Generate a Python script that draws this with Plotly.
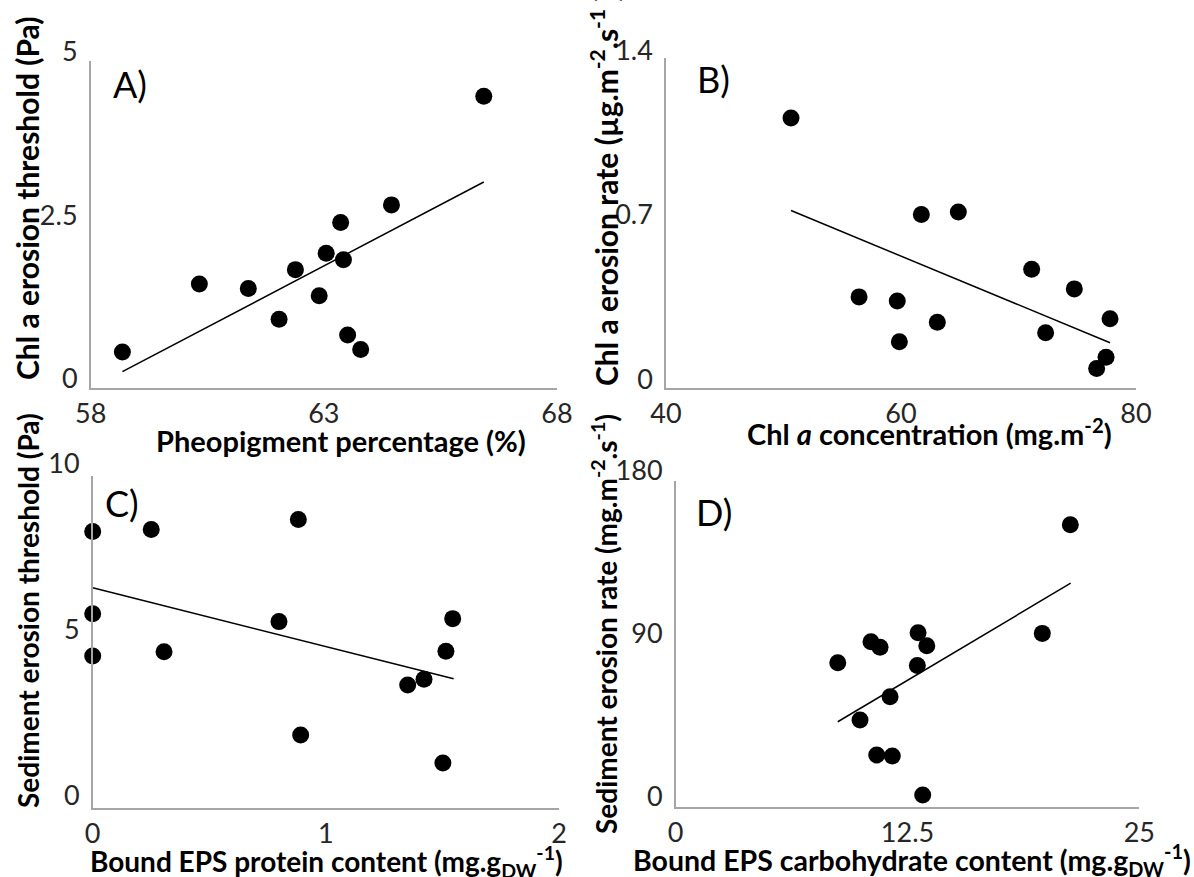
import plotly.graph_objects as go

# ---------------- data ----------------
# Panel A
A_x = [58.68, 60.33, 61.38, 62.04, 62.39, 62.90, 63.05, 63.36, 63.42, 63.51, 63.79, 64.45, 66.43]
A_y = [0.55, 1.59, 1.52, 1.05, 1.81, 1.41, 2.06, 2.53, 1.96, 0.81, 0.59, 2.80, 4.46]
A_trend_x = [58.68, 66.43]
A_trend_y = [0.25, 3.15]
A_xticks = [58, 63, 68]
A_yticks = [0, 2.5, 5]
A_xticklabels = ["58", "63", "68"]
A_yticklabels = ["0", "2.5", "5"]

# Panel B
B_x = [50.64, 56.43, 59.68, 59.86, 61.73, 63.09, 64.88, 71.12, 72.31, 74.75, 76.65, 77.45, 77.79]
B_y = [1.146, 0.386, 0.368, 0.195, 0.736, 0.278, 0.747, 0.503, 0.234, 0.420, 0.082, 0.129, 0.293]
B_trend_x = [50.64, 77.79]
B_trend_y = [0.753, 0.191]
B_xticks = [40, 60, 80]
B_yticks = [0, 0.7, 1.4]
B_xticklabels = ["40", "60", "80"]
B_yticklabels = ["0", "0.7", "1.4"]

# Panel C
C_x = [0, 0, 0, 0.251, 0.306, 0.799, 0.882, 0.892, 1.351, 1.421, 1.502, 1.515, 1.544]
C_y = [8.33, 5.85, 4.57, 8.39, 4.70, 5.61, 8.69, 2.19, 3.70, 3.87, 1.35, 4.72, 5.70]
C_trend_x = [0, 1.548]
C_trend_y = [6.63, 3.89]
C_xticks = [0, 1, 2]
C_yticks = [0, 5, 10]
C_xticklabels = ["0", "1", "2"]
C_yticklabels = ["0", "5", "10"]

# Panel D
D_x = [8.74, 9.94, 10.53, 10.84, 11.02, 11.56, 11.68, 13.03, 13.07, 13.32, 13.54, 19.77, 21.28]
D_y = [79.5, 47.9, 91.1, 28.5, 88.0, 60.7, 28.0, 77.9, 96.1, 6.5, 88.9, 95.7, 155.7]
D_trend_x = [8.74, 21.30]
D_trend_y = [46.9, 123.4]
D_xticks = [0, 12.5, 25]
D_yticks = [0, 90, 180]
D_xticklabels = ["0", "12.5", "25"]
D_yticklabels = ["0", "90", "180"]

panel_letters = ["A)", "B)", "C)", "D)"]
x_titles = [
    "Pheopigment percentage (%)",
    "Chl <i>a</i> concentration (mg.m<sup>-2</sup>)",
    "Bound EPS protein content (mg.g<sub>DW</sub><sup>-1</sup>)",
    "Bound EPS carbohydrate content (mg.g<sub>DW</sub><sup>-1</sup>)",
]
y_titles = [
    "Chl a erosion threshold (Pa)",
    "Chl a erosion rate (µg.m<sup>-2</sup>.s<sup>-1</sup> )",
    "Sediment erosion threshold (Pa)",
    "Sediment erosion rate (mg.m<sup>-2</sup>.s<sup>-1</sup>)",
]

# ---------------- layout geometry ----------------
W, H = 1194, 877
FONT = "Lato, Carlito, Calibri, sans-serif"

def fx(px):
    return px / W

def fy(py):
    return 1 - py / H

panels = [
    dict(x=A_x, y=A_y, tx=A_trend_x, ty=A_trend_y, xr=[58, 68], yr=[0, 5],
         xt=A_xticks, yt=A_yticks, xtl=A_xticklabels, ytl=A_yticklabels,
         dom_x=[90.7, 557], dom_y=[61, 388], yshift=-9),
    dict(x=B_x, y=B_y, tx=B_trend_x, ty=B_trend_y, xr=[40, 80], yr=[0, 1.4],
         xt=B_xticks, yt=B_yticks, xtl=B_xticklabels, ytl=B_yticklabels,
         dom_x=[666, 1136], dom_y=[58.3, 387.7], yshift=-8),
    dict(x=C_x, y=C_y, tx=C_trend_x, ty=C_trend_y, xr=[0, 2], yr=[0, 10],
         xt=C_xticks, yt=C_yticks, xtl=C_xticklabels, ytl=C_yticklabels,
         dom_x=[92.7, 559], dom_y=[476, 807.7], yshift=-12),
    dict(x=D_x, y=D_y, tx=D_trend_x, ty=D_trend_y, xr=[0, 25], yr=[0, 180],
         xt=D_xticks, yt=D_yticks, xtl=D_xticklabels, ytl=D_yticklabels,
         dom_x=[675.7, 1139.3], dom_y=[480.7, 806.7], yshift=-10),
]

# positions (px) and sizes of text
letter_pos = [(130, 84), (713, 79), (122, 503), (714, 512)]
xtitle_pos = [(341, 440), (929, 432), (326, 861), (912, 860)]
xtitle_size = [29, 29, 28, 28.5]
ytitle_pos = [(27, 198), (604, 190), (28, 611), (604, 624)]
ytitle_size = [30, 30, 28, 28]

fig = go.Figure()
layout = dict(
    template="none",
    width=W, height=H,
    margin=dict(l=0, r=0, t=0, b=0, pad=0, autoexpand=False),
    paper_bgcolor="white", plot_bgcolor="white",
    showlegend=False,
    font=dict(family=FONT, color="black"),
    annotations=[],
)

tick_font = dict(family=FONT, size=27, color="#262626")

for i, p in enumerate(panels):
    n = "" if i == 0 else str(i + 1)
    xa, ya = "x" + n, "y" + n
    fig.add_trace(go.Scatter(
        x=p["tx"], y=p["ty"], mode="lines", xaxis=xa, yaxis=ya,
        line=dict(color="black", width=1.5), cliponaxis=False, hoverinfo="skip"))
    fig.add_trace(go.Scatter(
        x=p["x"], y=p["y"], mode="markers", xaxis=xa, yaxis=ya,
        marker=dict(color="black", size=17, line=dict(width=0)), cliponaxis=False))
    common = dict(showgrid=False, zeroline=False, showline=True, linecolor="#a6a6a6",
                  linewidth=1.5, ticks="", tickfont=tick_font, fixedrange=True,
                  automargin=False)
    layout["xaxis" + n] = dict(
        domain=[fx(p["dom_x"][0]), fx(p["dom_x"][1])], range=p["xr"],
        tickmode="array", tickvals=p["xt"], ticktext=p["xtl"],
        anchor=ya, ticklabelstandoff=1, **common)
    layout["yaxis" + n] = dict(
        domain=[fy(p["dom_y"][1]), fy(p["dom_y"][0])], range=p["yr"],
        tickmode="array", tickvals=p["yt"], ticktext=p["ytl"],
        anchor=xa, ticklabelstandoff=6, ticklabelshift=p["yshift"], **common)

    lx, ly = letter_pos[i]
    layout["annotations"].append(dict(
        text=panel_letters[i], x=fx(lx), y=fy(ly), xref="paper", yref="paper",
        showarrow=False, xanchor="center", yanchor="middle",
        font=dict(family=FONT, size=36, color="black")))
    tx, ty = xtitle_pos[i]
    layout["annotations"].append(dict(
        text="<b>" + x_titles[i] + "</b>", x=fx(tx), y=fy(ty), xref="paper", yref="paper",
        showarrow=False, xanchor="center", yanchor="middle",
        font=dict(family=FONT, size=xtitle_size[i], color="black")))
    vx, vy = ytitle_pos[i]
    layout["annotations"].append(dict(
        text="<b>" + y_titles[i] + "</b>", x=fx(vx), y=fy(vy), xref="paper", yref="paper",
        showarrow=False, xanchor="center", yanchor="middle", textangle=-90,
        font=dict(family=FONT, size=ytitle_size[i], color="black")))

fig.update_layout(**layout)
fig.write_html("out.html", config={"displayModeBar": False},
               post_script="document.body.style.margin='0px';")
